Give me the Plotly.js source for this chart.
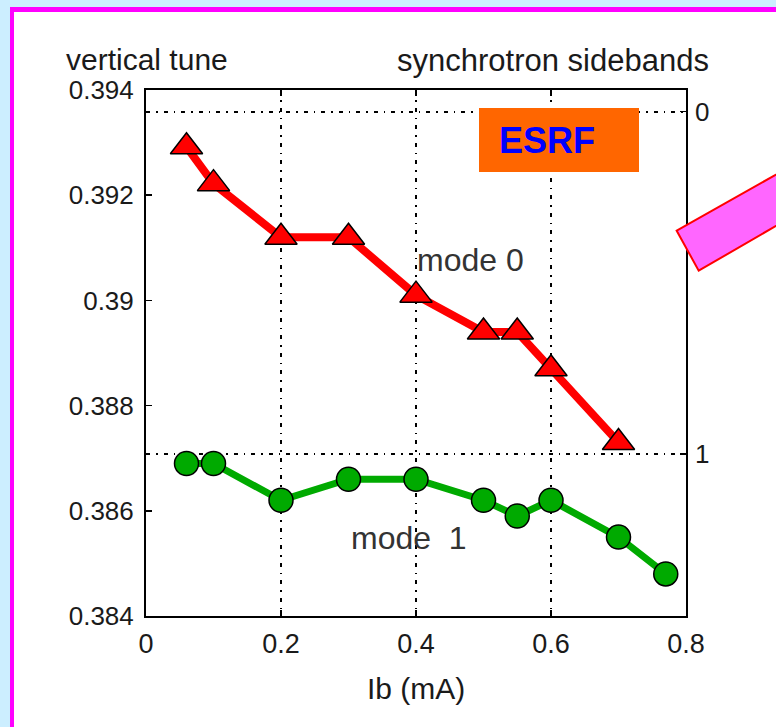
<!DOCTYPE html>
<html>
<head>
<meta charset="utf-8">
<script src="https://cdn.plot.ly/plotly-3.0.1.min.js"></script>
<style>
  html, body { margin: 0; padding: 0; background: #cceeff; width: 776px; height: 727px; overflow: hidden; }
  #frame { position: absolute; left: 10px; top: 7px; width: 800px; height: 760px;
           border-left: 4px solid #ff00ff; border-top: 5px solid #ff00ff; background: #ffffff; }
  #chart { position: absolute; left: 0; top: 0; width: 776px; height: 727px; }
</style>
</head>
<body>
<div id="frame"></div>
<div id="chart"></div>
<script>
// ---- data ----
const mode0X = [0.06, 0.1, 0.2, 0.3, 0.4, 0.5, 0.55, 0.6, 0.7];
const mode0Y = [0.39292, 0.39222, 0.3912, 0.3912, 0.3901, 0.3894, 0.3894, 0.3887, 0.3873];
const mode1X = [0.06, 0.1, 0.2, 0.3, 0.4, 0.5, 0.55, 0.6, 0.7, 0.77];
const mode1Y = [0.3869, 0.3869, 0.3862, 0.3866, 0.3866, 0.3862, 0.3859, 0.3862, 0.3855, 0.3848];
const xTicks = [0, 0.2, 0.4, 0.6, 0.8];
const xTickText = ["0", "0.2", "0.4", "0.6", "0.8"];
const yTicks = [0.384, 0.386, 0.388, 0.39, 0.392, 0.394];
const yTickText = ["0.384", "0.386", "0.388", "0.39", "0.392", "0.394"];
const sidebandTune = [0.38708, 0.39359];
const sidebandText = ["1", "0"];

// ---- layout helpers (pixel -> paper) ----
const W = 776, H = 727, M = {l: 146, r: 90, t: 90, b: 111};
const PW = W - M.l - M.r, PH = H - M.t - M.b;
const px = x => (x - M.l) / PW;
const py = y => (H - M.b - y) / PH;

const FONT = "Liberation Sans, Arial, Helvetica, sans-serif";
const TXT = "#1a1a1a";

const traces = [
  {
    x: mode0X, y: mode0Y, type: "scatter", mode: "lines+markers", name: "mode 0",
    line: {color: "#ff0000", width: 8},
    marker: {symbol: "triangle-up", size: 28, color: "#ff0000", line: {color: "#000", width: 1.5}}
  },
  {
    x: mode1X, y: mode1Y, type: "scatter", mode: "lines+markers", name: "mode 1",
    line: {color: "#00aa00", width: 7},
    marker: {symbol: "circle", size: 24, color: "#00aa00", line: {color: "#000", width: 1.5}}
  },
  {
    x: [0.4], y: [sidebandTune[1]], yaxis: "y2", mode: "markers",
    marker: {opacity: 0}, showlegend: false, hoverinfo: "skip"
  }
];

const poly = [[676.7, 230.7], [698.7, 270.7], [800, 212], [800, 161]];
const polyPath = "M " + poly.map(p => px(p[0]) + "," + py(p[1])).join(" L ") + " Z";

const layout = {
  width: W, height: H,
  margin: M,
  paper_bgcolor: "rgba(0,0,0,0)",
  plot_bgcolor: "#ffffff",
  showlegend: false,
  font: {family: FONT, size: 26, color: TXT},
  xaxis: {
    range: [0, 0.8], tickvals: xTicks, ticktext: xTickText,
    ticks: "inside", ticklen: 6, tickwidth: 1.5, tickcolor: "#000",
    showline: true, linewidth: 2, linecolor: "#000", mirror: "ticks",
    showgrid: true, gridcolor: "#000", gridwidth: 2, griddash: "4px,6px,1.5px,6px",
    zeroline: false, ticklabelstandoff: 3,
    tickfont: {family: FONT, size: 27, color: TXT}
  },
  yaxis: {
    range: [0.384, 0.394], tickvals: yTicks, ticktext: yTickText,
    ticks: "inside", ticklen: 6, tickwidth: 1.5, tickcolor: "#000",
    showline: true, linewidth: 2, linecolor: "#000", mirror: true,
    showgrid: false, zeroline: false, ticklabelstandoff: 5,
    tickfont: {family: FONT, size: 26, color: TXT}
  },
  yaxis2: {
    overlaying: "y", side: "right", range: [0.384, 0.394],
    tickvals: sidebandTune, ticktext: sidebandText,
    ticks: "inside", ticklen: 6, tickwidth: 1.5, tickcolor: "#000",
    showline: false, showgrid: true, gridcolor: "#000", gridwidth: 2,
    griddash: "4px,6px,1.5px,6px", zeroline: false, ticklabelstandoff: 8,
    tickfont: {family: FONT, size: 26, color: TXT}
  },
  shapes: [
    {type: "rect", xref: "paper", yref: "paper", x0: px(479), x1: px(639), y0: py(172), y1: py(108),
     fillcolor: "#ff6600", line: {width: 0}, layer: "above"},
    {type: "path", xref: "paper", yref: "paper", path: polyPath,
     fillcolor: "#ff66ff", line: {color: "#ff0000", width: 2}, layer: "above"}
  ],
  annotations: [
    {xref: "paper", yref: "paper", x: px(64), y: py(59), xanchor: "left", yanchor: "middle",
     text: "vertical tune", showarrow: false, font: {family: FONT, size: 30, color: TXT}},
    {xref: "paper", yref: "paper", x: px(711), y: py(60), xanchor: "right", yanchor: "middle",
     text: "synchrotron sidebands", showarrow: false, font: {family: FONT, size: 31, color: TXT}},
    {xref: "paper", yref: "paper", x: 0.5, y: py(688), xanchor: "center", yanchor: "middle",
     text: "Ib (mA)", showarrow: false, font: {family: FONT, size: 30, color: TXT}},
    {xref: "x", yref: "y", x: 0.48, y: 0.39077, xanchor: "center", yanchor: "middle",
     text: "mode 0", showarrow: false, font: {family: FONT, size: 32, color: "#333"}},
    {xref: "x", yref: "y", x: 0.39, y: 0.38548, xanchor: "center", yanchor: "middle",
     text: "mode&nbsp;&nbsp;1", showarrow: false, font: {family: FONT, size: 32, color: "#333"}},
    {xref: "paper", yref: "paper", x: px(497), y: py(140), xanchor: "left", yanchor: "middle",
     text: "<b>ESRF</b>", showarrow: false, font: {family: FONT, size: 36, color: "#0000ff"}}
  ]
};

Plotly.newPlot("chart", traces, layout, {displayModeBar: false, staticPlot: true});
</script>
</body>
</html>
